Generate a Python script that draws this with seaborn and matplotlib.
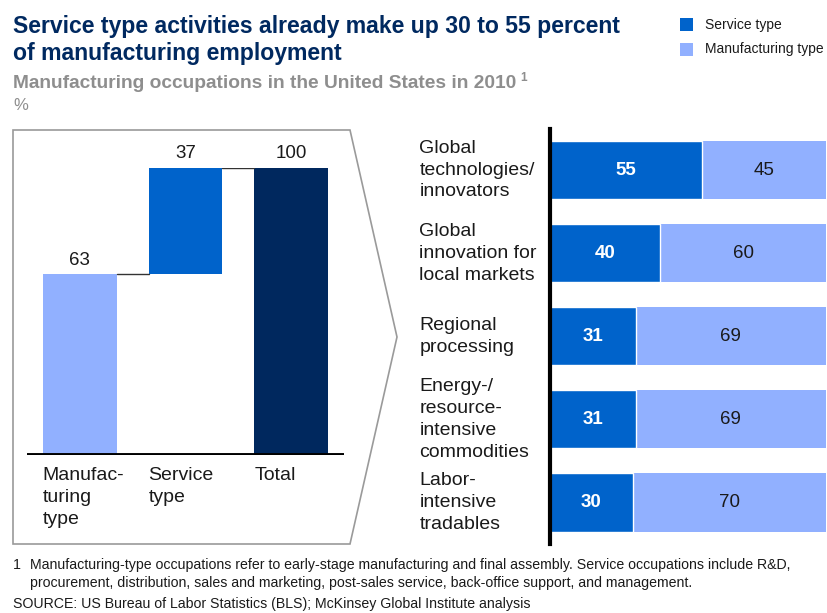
import matplotlib
matplotlib.use("Agg")
import matplotlib.pyplot as plt
from matplotlib.patches import Polygon, Rectangle
import seaborn as sns

# ----------------------------------------------------
# Data
# ----------------------------------------------------
waterfall_labels = ["Manufac-\nturing\ntype", "Service\ntype", "Total"]
waterfall_values = [63, 37, 100]

segments = [
    "Global\ntechnologies/\ninnovators",
    "Global\ninnovation for\nlocal markets",
    "Regional\nprocessing",
    "Energy-/\nresource-\nintensive\ncommodities",
    "Labor-\nintensive\ntradables",
]
service_share = [55, 40, 31, 31, 30]
manufacturing_share = [45, 60, 69, 69, 70]

SERVICE = "#0063CB"
MANUF = "#91B0FF"
TOTAL = "#00285E"
NAVY = "#002960"
GREY = "#8E8E8E"
TEXT = "#1A1A1A"

sns.set_theme(style="white")
plt.rcParams["font.family"] = ["Liberation Sans", "DejaVu Sans"]

W, H = 827, 613
fig = plt.figure(figsize=(W / 100, H / 100), dpi=100)

# background axes in pixel coordinates for the frame, title and notes
bg = fig.add_axes([0, 0, 1, 1], zorder=0)
bg.set_xlim(0, W)
bg.set_ylim(H, 0)
bg.axis("off")

bg.add_patch(Polygon([(13, 130), (350, 130), (397, 337), (350, 544), (13, 544)],
                     closed=True, fill=False, edgecolor="#9A9A9A", lw=1.2))

bg.text(13, 33, "Service type activities already make up 30 to 55 percent",
        fontsize=16.6, fontweight="bold", color=NAVY, va="baseline")
bg.text(13, 60, "of manufacturing employment",
        fontsize=16.6, fontweight="bold", color=NAVY, va="baseline")
bg.text(13, 88, "Manufacturing occupations in the United States in 2010",
        fontsize=13.8, fontweight="bold", color=GREY, va="baseline")
bg.text(520, 81, "1", fontsize=8.5, fontweight="bold", color=GREY, va="baseline")
bg.text(13, 110, "%", fontsize=12, color=GREY, va="baseline")

# legend
for y, col, lab in [(18, SERVICE, "Service type"), (43, MANUF, "Manufacturing type")]:
    bg.add_patch(Rectangle((680, y), 13, 13, color=col, lw=0))
    bg.text(705, y + 6.5, lab, fontsize=10, color=TEXT, va="center")

# footnotes
fn = 10.2
bg.text(13, 565, "1", fontsize=fn, color=TEXT, va="center")
bg.text(30, 565, "Manufacturing-type occupations refer to early-stage manufacturing and final assembly. "
        "Service occupations include R&D,", fontsize=fn, color=TEXT, va="center")
bg.text(30, 583, "procurement, distribution, sales and marketing, post-sales service, "
        "back-office support, and management.", fontsize=fn, color=TEXT, va="center")
bg.text(13, 604, "SOURCE: US Bureau of Labor Statistics (BLS); McKinsey Global Institute analysis",
        fontsize=fn, color=TEXT, va="center")

# ----------------------------------------------------
# Waterfall (left)
# ----------------------------------------------------
ax1 = fig.add_axes([27 / W, (H - 455) / H, 317 / W, 287 / H], zorder=1)
ax1.patch.set_alpha(0)
bottoms = [0, waterfall_values[0], 0]
colors = [MANUF, SERVICE, TOTAL]
xs = range(len(waterfall_values))
ax1.bar(xs, waterfall_values, bottom=bottoms, width=0.7, color=colors, lw=0)
ax1.set_xlim(-0.5, 2.5)
ax1.set_ylim(0, 100)
ax1.axhline(0, color="black", lw=2.8, zorder=3)

# connectors
ax1.plot([0.35, 0.65], [waterfall_values[0]] * 2, color="#333333", lw=1)
ax1.plot([1.35, 1.65], [bottoms[1] + waterfall_values[1]] * 2, color="#333333", lw=1)

for i, (v, b) in enumerate(zip(waterfall_values, bottoms)):
    ax1.annotate(str(v), (i, b + v), xytext=(0, 4), textcoords="offset points",
                 ha="center", va="bottom", fontsize=13.5, color=TEXT, annotation_clip=False)
    ax1.annotate(waterfall_labels[i], (i - 0.35, 0), xytext=(0, -9), textcoords="offset points",
                 ha="left", va="top", fontsize=14, color=TEXT, linespacing=1.38,
                 annotation_clip=False)
ax1.axis("off")

# ----------------------------------------------------
# Stacked bars (right)
# ----------------------------------------------------
ax2 = fig.add_axes([550 / W, (H - 544) / H, 276 / W, 415.5 / H], zorder=1)
ax2.patch.set_alpha(0)
totals = [s + m for s, m in zip(service_share, manufacturing_share)]
sns.barplot(x=totals, y=segments, color=MANUF, orient="h", width=0.7,
            saturation=1, linewidth=0, ax=ax2)
sns.barplot(x=service_share, y=segments, color=SERVICE, orient="h", width=0.7,
            saturation=1, edgecolor="white", linewidth=1, ax=ax2)
ax2.set_xlim(0, 100)
ax2.set_xlabel("")
ax2.set_ylabel("")
ax2.set_xticks([])
for sp in ["top", "right", "bottom"]:
    ax2.spines[sp].set_visible(False)
ax2.spines["left"].set_linewidth(3)
ax2.spines["left"].set_color("black")

ax2.tick_params(axis="y", length=0, pad=94)
for lab in ax2.get_yticklabels():
    lab.set_horizontalalignment("left")
    lab.set_verticalalignment("center")
    lab.set_fontsize(14)
    lab.set_color(TEXT)
    lab.set_linespacing(1.38)

for i, (s, m) in enumerate(zip(service_share, manufacturing_share)):
    ax2.text(s / 2, i, str(s), ha="center", va="center", fontsize=13.5,
             fontweight="bold", color="white")
    ax2.text(s + m / 2, i, str(m), ha="center", va="center", fontsize=13.5, color=TEXT)

fig.savefig("out.png", dpi=100)
